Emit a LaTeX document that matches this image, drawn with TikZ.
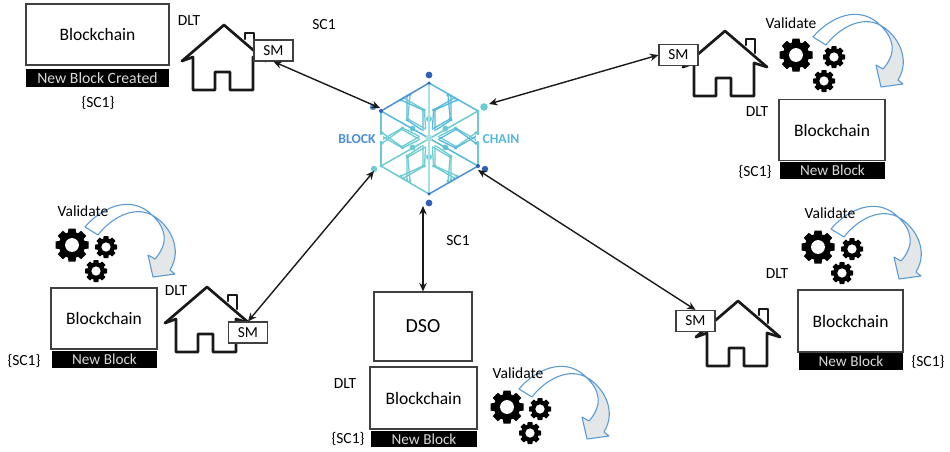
\documentclass[tikz,border=0pt]{standalone}
\usepackage{fontspec}
\setmainfont{Carlito}
\definecolor{arrowline}{HTML}{5B9BD5}
\definecolor{arrowfill}{HTML}{E3E7E8}
\definecolor{lgDark}{HTML}{2F5FB8}
\definecolor{lgBlue}{HTML}{4A90D0}
\definecolor{lgSky}{HTML}{55B8DC}
\definecolor{lgTeal}{HTML}{6CCBD2}
\definecolor{lgPale}{HTML}{A5E0E4}
\tikzset{
  boxframe/.style={draw=black!75,line width=1.2pt,fill=white,inner sep=0pt},
  barblack/.style={fill=black,text=white!85!black,inner sep=0pt,font=\fontsize{15.2}{16}\selectfont},
  lbl/.style={inner sep=0pt,text=black,font=\fontsize{15.5}{16}\selectfont},
  bctext/.style={boxframe,text=black,font=\fontsize{17.5}{18}\selectfont},
  smbox/.style={draw=black!75,line width=1.2pt,fill=white,inner sep=0pt,minimum width=39pt,minimum height=21pt,text=black,font=\fontsize{15.3}{16}\selectfont},
  biarrow/.style={{Stealth[length=8.5pt,width=7.5pt]}-{Stealth[length=8.5pt,width=7.5pt]},line width=1.4pt,black!90},
  houseline/.style={line width=2.7pt,line join=round,line cap=round,black!90},
  trace/.style={line width=1.3pt},
}
\usetikzlibrary{arrows.meta}
\newcommand{\drawhouse}[2]{%
  \begin{scope}[shift={(#1,#2)}]
    \draw[houseline] (-42,36) -- (0,0) -- (42,36);
    \draw[houseline] (-42,36) -- (-31,32) -- (-31,65) -- (-9,65) -- (-9,47) -- (6,47) -- (6,65) -- (29,65) -- (29,32) -- (42,36);
    \draw[houseline,line width=2.2pt] (21,14) -- (21,8) -- (30,8) -- (30,22);
  \end{scope}}
\newcommand{\onegear}[3]{%
  \begin{scope}[shift={(#1,#2)},scale=#3]
    \foreach \t in {0,45,...,315}{\fill[black,rotate=\t] (-.3,0) -- (-.22,1) -- (.22,1) -- (.3,0) -- cycle;}
    \fill[black] (0,0) circle (.8);
    \fill[white] (0,0) circle (.42);
  \end{scope}}
\newcommand{\gearset}[3]{%
  \begin{scope}[shift={(#1,#2)}]
    \fill[arrowfill] (67,-12) .. controls (85,-2) and (98,22) .. (85,43) -- (90,47) -- (68,50) -- (63,28) -- (70,32) .. controls (85,15) and (80,0) .. (67,-12) -- cycle;
    \draw[arrowline,line width=1.1pt,line join=round] (13,8) .. controls (25,-8) and (48,-22) .. (67,-12) .. controls (85,-2) and (98,22) .. (85,43) -- (90,47) -- (68,50) -- (63,28) -- (70,32) .. controls (85,15) and (80,0) .. (67,-12) .. controls (45,-34) and (15,-18) .. (0,0) -- cycle;
    \onegear{#3}{18}{16.5}
    \onegear{21}{20}{11}
    \onegear{11}{44}{11}
  \end{scope}}
\begin{document}
\begin{tikzpicture}[x=1pt,y=-1pt]
\useasboundingbox (0,0) rectangle (950,451);
% logo
\begin{scope}[shift={(429,138)}]
  \coordinate (hT) at (0,-55);
  \coordinate (hB) at (0,56);
  \coordinate (hUL) at (-48,-27);
  \coordinate (hLL) at (-48,28);
  \coordinate (hUR) at (49,-27);
  \coordinate (hLR) at (49,28);
  \foreach \a/\cc in {0/lgSky,60/lgTeal,120/lgTeal,180/lgTeal,240/lgTeal,300/lgSky}{
    \begin{scope}[rotate=\a]
      \foreach \m in {1,-1}{
        \begin{scope}[xscale=\m]
          \draw[\cc,trace] (-22,-42) -- (-22,-18) -- (-7,-8);
          \draw[\cc,trace] (-28,-38) -- (-6,-28) -- (-6,-7);
          \foreach \p in {(-22,-42),(-22,-18),(-28,-38),(-6,-28)}{\fill[\cc] \p circle (1.7);}
        \end{scope}}
      \fill[lgTeal] (0,-19) circle (3);
    \end{scope}}
  \draw[lgPale,line width=2pt] (hT) -- (hB);
  \draw[lgTeal,line width=1.5pt] (hUR) -- (hLL);
  \draw[lgSky,line width=1.5pt] (hUL) -- (hLR);
  \draw[lgBlue,line width=1.5pt] (hUL) -- (hT);
  \draw[lgSky,line width=1.5pt] (hT) -- (hUR);
  \draw[lgTeal,line width=1.5pt] (hUR) -- (hLR);
  \draw[lgBlue,line width=1.5pt] (hLR) -- (hB);
  \draw[lgTeal,line width=1.5pt] (hB) -- (hLL);
  \draw[lgTeal,line width=1.5pt] (hLL) -- (hUL);
  \fill[lgDark] (hT) circle (1.7) (hUL) circle (2) (hLR) circle (2) (hB) circle (1.7);
  \fill[lgTeal] (hUR) circle (1.7) (hLL) circle (1.7);
  \fill[lgPale] (0,0) circle (3.5);
  \fill[white] (-49,-3) rectangle (-46,3);
  \fill[white] (47,-3) rectangle (50,3);
\end{scope}
\fill[lgDark] (429,75) circle (3.4);
\fill[lgDark] (429,203) circle (3.4);
\fill[lgBlue] (373,107) circle (3.2);
\fill[lgTeal] (484,107) circle (3.8);
\fill[lgTeal] (374,169) circle (3.2);
\fill[lgDark] (485,169) circle (3.2);
\node[inner sep=0pt,text=lgBlue,font=\bfseries\fontsize{13.7}{14}\selectfont] (blk) at (357,139) {BLOCK};
\node[inner sep=0pt,text=lgSky,font=\bfseries\fontsize{13.7}{14}\selectfont] (chn) at (501,139) {CHAIN};
\coordinate (logoNW) at (380,108);
\coordinate (logoNE) at (489,104);
\coordinate (logoSW) at (374,171);
\coordinate (logoSE) at (478,170);
\coordinate (logoS) at (423,206);
% top-left
\node[bctext,minimum width=143pt,minimum height=61pt] (bc1) at (97.5,34.5) {Blockchain};
\node[barblack,minimum width=143pt,minimum height=18pt] (bar1) at (97.5,78) {\fontsize{15.7}{16}\selectfont New Block Created};
\node[lbl] (set1) at (98,103) {\{SC1\}};
\node[lbl] (dlt1) at (189,21) {DLT};
\node[lbl] (sc1a) at (324,25) {SC1};
\drawhouse{224}{25}
\node[smbox] (sm1) at (273.5,50.5) {SM};
% top-right
\drawhouse{725}{31}
\node[smbox] (sm2) at (678.5,55) {SM};
\gearset{813}{37}{-17}
\node[lbl] (val2) at (791,23) {Validate};
\node[bctext,minimum width=106pt,minimum height=61pt] (bc2) at (832,130) {Blockchain};
\node[barblack,minimum width=105pt,minimum height=17pt] (bar2) at (832.5,170.5) {New Block};
\node[lbl] (set2) at (755,172) {\{SC1\}};
\node[lbl] (dlt2) at (757,112) {DLT};
% bottom-left
\drawhouse{207}{287}
\node[smbox] (sm3) at (248,332.5) {SM};
\gearset{85}{227}{-13}
\node[lbl] (val3) at (83,211) {Validate};
\node[bctext,minimum width=106pt,minimum height=61pt] (bc3) at (104,318.5) {Blockchain};
\node[barblack,minimum width=105pt,minimum height=17pt] (bar3) at (104.5,359.5) {New Block};
\node[lbl] (set3) at (24,361) {\{SC1\}};
\node[lbl] (dlt3) at (176,291) {DLT};
% bottom-right
\drawhouse{738}{301}
\node[smbox] (sm4) at (695.5,321) {SM};
\gearset{831}{229}{-13}
\node[lbl] (val4) at (830,213) {Validate};
\node[bctext,minimum width=105pt,minimum height=62pt] (bc4) at (850.5,321) {Blockchain};
\node[barblack,minimum width=104pt,minimum height=17pt] (bar4) at (851,361.5) {New Block};
\node[lbl] (set4) at (928,362) {\{SC1\}};
\node[lbl] (dlt4) at (777,274) {DLT};
% DSO
\node[boxframe,text=black,font=\fontsize{20}{21}\selectfont,minimum width=98pt,minimum height=69pt] (dso) at (423,326.5) {DSO};
\node[bctext,minimum width=107pt,minimum height=62pt] (bc5) at (423.5,398) {Blockchain};
\node[barblack,minimum width=106pt,minimum height=16pt] (bar5) at (424,439) {New Block};
\node[lbl] (set5) at (348,439) {\{SC1\}};
\node[lbl] (dlt5) at (345,384) {DLT};
\node[lbl] (sc1b) at (458,241) {SC1};
\gearset{519}{389}{-12}
\node[lbl] (val5) at (518,373) {Validate};
% connectors
\draw[biarrow] (sm1.south) -- (logoNW);
\draw[biarrow] (sm2.west) -- (logoNE);
\draw[biarrow] (sm3.north) -- (logoSW);
\draw[biarrow] (sm4.north) -- (logoSE);
\draw[biarrow] (dso.north) -- (logoS);
\end{tikzpicture}
\end{document}
